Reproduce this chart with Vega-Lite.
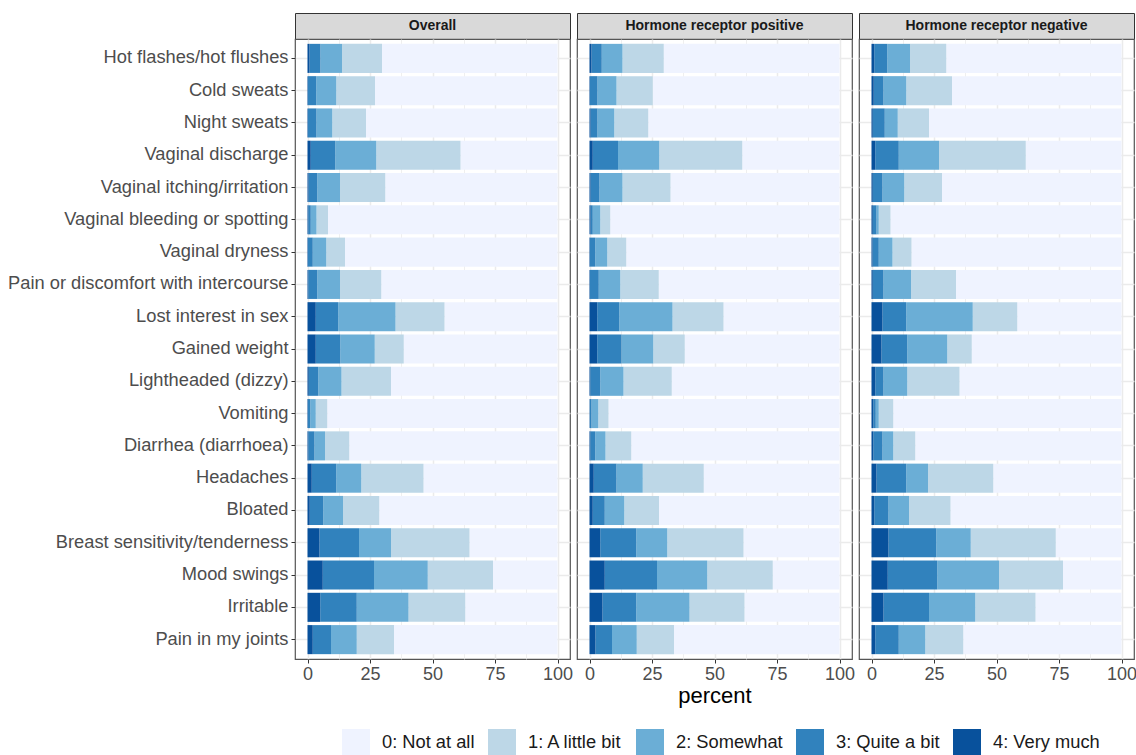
{
  "$schema": "https://vega.github.io/schema/vega-lite/v6.json",
  "padding": {"left": 6, "top": 12, "right": 0, "bottom": 0},
  "background": "white",
  "config": {
    "font": "Liberation Sans",
    "view": {"stroke": null},
    "concat": {"spacing": 0},
    "legend": {
      "orient": "none",
      "direction": "horizontal",
      "symbolType": "square",
      "symbolSize": 784,
      "symbolStrokeWidth": 0,
      "symbolOpacity": 1,
      "labelFontSize": 18.3,
      "labelColor": "#1a1a1a",
      "labelFont": "Liberation Sans",
      "labelOffset": 12,
      "columnPadding": 13,
      "labelLimit": 300
    }
  },
  "datasets": {
    "d": [
      {"g": "Overall", "s": "Hot flashes/hot flushes", "v4": 0.8, "v3": 4.4, "v2": 8.6, "v1": 16.0, "v0": 70.2},
      {"g": "Overall", "s": "Cold sweats", "v4": 0.2, "v3": 3.3, "v2": 8.0, "v1": 15.5, "v0": 73.0},
      {"g": "Overall", "s": "Night sweats", "v4": 0.2, "v3": 3.4, "v2": 6.3, "v1": 13.5, "v0": 76.6},
      {"g": "Overall", "s": "Vaginal discharge", "v4": 1.3, "v3": 9.8, "v2": 16.4, "v1": 33.7, "v0": 38.8},
      {"g": "Overall", "s": "Vaginal itching/irritation", "v4": 0.4, "v3": 3.5, "v2": 9.1, "v1": 18.1, "v0": 68.9},
      {"g": "Overall", "s": "Vaginal bleeding or spotting", "v4": 0.3, "v3": 1.0, "v2": 2.3, "v1": 4.6, "v0": 91.8},
      {"g": "Overall", "s": "Vaginal dryness", "v4": 0.2, "v3": 1.9, "v2": 5.4, "v1": 7.5, "v0": 85.0},
      {"g": "Overall", "s": "Pain or discomfort with intercourse", "v4": 0.3, "v3": 3.6, "v2": 9.1, "v1": 16.5, "v0": 70.5},
      {"g": "Overall", "s": "Lost interest in sex", "v4": 3.3, "v3": 9.0, "v2": 22.9, "v1": 19.6, "v0": 45.2},
      {"g": "Overall", "s": "Gained weight", "v4": 3.3, "v3": 9.8, "v2": 13.8, "v1": 11.6, "v0": 61.5},
      {"g": "Overall", "s": "Lightheaded (dizzy)", "v4": 0.5, "v3": 3.8, "v2": 9.3, "v1": 19.8, "v0": 66.6},
      {"g": "Overall", "s": "Vomiting", "v4": 0.2, "v3": 0.9, "v2": 2.2, "v1": 4.6, "v0": 92.1},
      {"g": "Overall", "s": "Diarrhea (diarrhoea)", "v4": 0.3, "v3": 2.5, "v2": 4.2, "v1": 9.7, "v0": 83.3},
      {"g": "Overall", "s": "Headaches", "v4": 1.7, "v3": 9.8, "v2": 10.0, "v1": 24.9, "v0": 53.6},
      {"g": "Overall", "s": "Bloated", "v4": 0.9, "v3": 5.4, "v2": 7.9, "v1": 14.5, "v0": 71.3},
      {"g": "Overall", "s": "Breast sensitivity/tenderness", "v4": 4.8, "v3": 15.8, "v2": 12.8, "v1": 31.4, "v0": 35.2},
      {"g": "Overall", "s": "Mood swings", "v4": 6.1, "v3": 20.5, "v2": 21.5, "v1": 26.1, "v0": 25.8},
      {"g": "Overall", "s": "Irritable", "v4": 5.1, "v3": 14.6, "v2": 20.7, "v1": 22.7, "v0": 36.9},
      {"g": "Overall", "s": "Pain in my joints", "v4": 2.1, "v3": 7.3, "v2": 10.3, "v1": 14.9, "v0": 65.4},

      {"g": "Hormone receptor positive", "s": "Hot flashes/hot flushes", "v4": 0.8, "v3": 4.1, "v2": 8.3, "v1": 16.5, "v0": 70.3},
      {"g": "Hormone receptor positive", "s": "Cold sweats", "v4": 0.2, "v3": 3.0, "v2": 7.6, "v1": 14.5, "v0": 74.7},
      {"g": "Hormone receptor positive", "s": "Night sweats", "v4": 0.4, "v3": 2.8, "v2": 6.7, "v1": 13.6, "v0": 76.5},
      {"g": "Hormone receptor positive", "s": "Vaginal discharge", "v4": 1.3, "v3": 10.1, "v2": 16.5, "v1": 33.2, "v0": 38.9},
      {"g": "Hormone receptor positive", "s": "Vaginal itching/irritation", "v4": 0.4, "v3": 3.6, "v2": 9.2, "v1": 19.2, "v0": 67.6},
      {"g": "Hormone receptor positive", "s": "Vaginal bleeding or spotting", "v4": 0.4, "v3": 0.9, "v2": 3.0, "v1": 4.0, "v0": 91.7},
      {"g": "Hormone receptor positive", "s": "Vaginal dryness", "v4": 0.2, "v3": 2.1, "v2": 4.8, "v1": 7.6, "v0": 85.3},
      {"g": "Hormone receptor positive", "s": "Pain or discomfort with intercourse", "v4": 0.2, "v3": 3.5, "v2": 8.6, "v1": 15.4, "v0": 72.3},
      {"g": "Hormone receptor positive", "s": "Lost interest in sex", "v4": 3.1, "v3": 8.8, "v2": 21.3, "v1": 20.4, "v0": 46.4},
      {"g": "Hormone receptor positive", "s": "Gained weight", "v4": 3.1, "v3": 9.7, "v2": 12.7, "v1": 12.6, "v0": 61.9},
      {"g": "Hormone receptor positive", "s": "Lightheaded (dizzy)", "v4": 0.3, "v3": 4.0, "v2": 9.3, "v1": 19.3, "v0": 67.1},
      {"g": "Hormone receptor positive", "s": "Vomiting", "v4": 0.1, "v3": 0.7, "v2": 2.7, "v1": 4.1, "v0": 92.4},
      {"g": "Hormone receptor positive", "s": "Diarrhea (diarrhoea)", "v4": 0.3, "v3": 2.0, "v2": 4.1, "v1": 10.3, "v0": 83.3},
      {"g": "Hormone receptor positive", "s": "Headaches", "v4": 1.7, "v3": 9.1, "v2": 10.5, "v1": 24.4, "v0": 54.3},
      {"g": "Hormone receptor positive", "s": "Bloated", "v4": 1.3, "v3": 4.8, "v2": 7.8, "v1": 13.9, "v0": 72.2},
      {"g": "Hormone receptor positive", "s": "Breast sensitivity/tenderness", "v4": 4.3, "v3": 14.4, "v2": 12.4, "v1": 30.5, "v0": 38.4},
      {"g": "Hormone receptor positive", "s": "Mood swings", "v4": 6.1, "v3": 20.9, "v2": 20.1, "v1": 26.2, "v0": 26.7},
      {"g": "Hormone receptor positive", "s": "Irritable", "v4": 5.2, "v3": 13.5, "v2": 21.3, "v1": 22.0, "v0": 38.0},
      {"g": "Hormone receptor positive", "s": "Pain in my joints", "v4": 2.4, "v3": 6.6, "v2": 9.9, "v1": 14.9, "v0": 66.2},

      {"g": "Hormone receptor negative", "s": "Hot flashes/hot flushes", "v4": 1.1, "v3": 5.2, "v2": 9.1, "v1": 14.5, "v0": 70.1},
      {"g": "Hormone receptor negative", "s": "Cold sweats", "v4": 0.9, "v3": 3.9, "v2": 9.1, "v1": 18.3, "v0": 67.8},
      {"g": "Hormone receptor negative", "s": "Night sweats", "v4": 0.5, "v3": 4.8, "v2": 5.2, "v1": 12.5, "v0": 77.0},
      {"g": "Hormone receptor negative", "s": "Vaginal discharge", "v4": 1.5, "v3": 9.4, "v2": 16.1, "v1": 34.7, "v0": 38.3},
      {"g": "Hormone receptor negative", "s": "Vaginal itching/irritation", "v4": 0.5, "v3": 3.9, "v2": 8.7, "v1": 15.1, "v0": 71.8},
      {"g": "Hormone receptor negative", "s": "Vaginal bleeding or spotting", "v4": 0.5, "v3": 1.5, "v2": 0.9, "v1": 4.7, "v0": 92.4},
      {"g": "Hormone receptor negative", "s": "Vaginal dryness", "v4": 0.4, "v3": 2.5, "v2": 5.5, "v1": 7.6, "v0": 84.0},
      {"g": "Hormone receptor negative", "s": "Pain or discomfort with intercourse", "v4": 0.5, "v3": 4.3, "v2": 11.0, "v1": 18.0, "v0": 66.2},
      {"g": "Hormone receptor negative", "s": "Lost interest in sex", "v4": 4.4, "v3": 9.5, "v2": 26.6, "v1": 17.8, "v0": 41.7},
      {"g": "Hormone receptor negative", "s": "Gained weight", "v4": 4.0, "v3": 10.3, "v2": 16.0, "v1": 9.8, "v0": 59.9},
      {"g": "Hormone receptor negative", "s": "Lightheaded (dizzy)", "v4": 1.5, "v3": 3.3, "v2": 9.5, "v1": 20.9, "v0": 64.8},
      {"g": "Hormone receptor negative", "s": "Vomiting", "v4": 0.7, "v3": 1.0, "v2": 1.2, "v1": 5.8, "v0": 91.3},
      {"g": "Hormone receptor negative", "s": "Diarrhea (diarrhoea)", "v4": 0.7, "v3": 3.7, "v2": 4.3, "v1": 8.8, "v0": 82.5},
      {"g": "Hormone receptor negative", "s": "Headaches", "v4": 2.0, "v3": 11.9, "v2": 8.7, "v1": 26.1, "v0": 51.3},
      {"g": "Hormone receptor negative", "s": "Bloated", "v4": 1.1, "v3": 5.7, "v2": 8.2, "v1": 16.6, "v0": 68.4},
      {"g": "Hormone receptor negative", "s": "Breast sensitivity/tenderness", "v4": 6.8, "v3": 19.1, "v2": 13.8, "v1": 34.0, "v0": 26.3},
      {"g": "Hormone receptor negative", "s": "Mood swings", "v4": 6.5, "v3": 19.8, "v2": 24.7, "v1": 25.6, "v0": 23.4},
      {"g": "Hormone receptor negative", "s": "Irritable", "v4": 4.8, "v3": 18.2, "v2": 18.5, "v1": 24.1, "v0": 34.4},
      {"g": "Hormone receptor negative", "s": "Pain in my joints", "v4": 1.5, "v3": 9.4, "v2": 10.6, "v1": 15.2, "v0": 63.3}
    ]
  },
  "spacing": 2,
  "hconcat": [
    {
      "bounds": "flush",
      "spacing": 0,
      "vconcat": [
        {
          "width": 275, "height": 26,
          "view": {"fill": "#d9d9d9", "stroke": "#333333", "strokeWidth": 1},
          "data": {"values": [{"g": "Overall"}]},
          "mark": {"type": "text", "fontSize": 14, "fontWeight": "bold", "color": "#1a1a1a", "baseline": "middle", "align": "center"},
          "encoding": {"text": {"field": "g"}}
        },
        {
          "width": 275, "height": 620,
          "view": {"fill": "white", "stroke": "#555555", "strokeWidth": 1.2},
          "data": {"name": "d"},
          "transform": [
            {"filter": "datum.g === 'Overall'"},
            {"fold": ["v0", "v1", "v2", "v3", "v4"], "as": ["level", "percent"]}
          ],
          "mark": {"type": "bar"},
          "encoding": {
            "y": {
              "field": "s", "type": "nominal", "sort": null,
              "scale": {"paddingInner": 0.1, "paddingOuter": 0.15},
              "axis": {"title": null, "labelFontSize": 18.3, "labelColor": "#4d4d4d", "labelPadding": 3, "labelLimit": 400,
                       "tickSize": 4, "tickColor": "#333333", "tickWidth": 1, "domain": false,
                       "grid": true, "gridColor": "#ebebeb", "gridWidth": 1.5, "bandPosition": 0.5}
            },
            "x": {
              "field": "percent", "type": "quantitative", "stack": "zero",
              "scale": {"domain": [-5, 105], "nice": false, "zero": false},
              "axis": {"title": null, "values": [0, 12.5, 25, 37.5, 50, 62.5, 75, 87.5, 100], "format": "d",
                       "labelExpr": "datum.value % 25 === 0 ? datum.label : ''", "labelOverlap": false, "labelFlush": false,
                       "labelFontSize": 18, "labelColor": "#4d4d4d", "labelPadding": 2,
                       "tickSize": 4, "tickColor": "#333333", "tickWidth": 1,
                       "tickOpacity": {"condition": {"test": "datum.value % 25 !== 0", "value": 0}, "value": 1},
                       "domain": false, "grid": true, "gridColor": "#ebebeb",
                       "gridWidth": {"condition": {"test": "datum.value % 25 !== 0", "value": 0.8}, "value": 1.5}}
            },
            "color": {
              "field": "level", "type": "nominal",
              "scale": {"domain": ["v0", "v1", "v2", "v3", "v4"], "range": ["#eff3ff", "#bdd7e7", "#6baed6", "#3182bd", "#08519c"]},
              "legend": {"title": null, "orient": "none", "direction": "horizontal", "legendX": 47, "legendY": 716,
                         "labelExpr": "datum.value === 'v0' ? '0: Not at all' : datum.value === 'v1' ? '1: A little bit' : datum.value === 'v2' ? '2: Somewhat' : datum.value === 'v3' ? '3: Quite a bit' : '4: Very much'"}
            },
            "order": {"field": "level", "type": "ordinal", "sort": "descending"}
          }
        }
      ]
    },
    {
      "bounds": "flush",
      "spacing": 0,
      "vconcat": [
        {
          "width": 275, "height": 26,
          "view": {"fill": "#d9d9d9", "stroke": "#333333", "strokeWidth": 1},
          "data": {"values": [{"g": "Hormone receptor positive"}]},
          "mark": {"type": "text", "fontSize": 14, "fontWeight": "bold", "color": "#1a1a1a", "baseline": "middle", "align": "center"},
          "encoding": {"text": {"field": "g"}}
        },
        {
          "width": 275, "height": 620,
          "view": {"fill": "white", "stroke": "#555555", "strokeWidth": 1.2},
          "data": {"name": "d"},
          "transform": [
            {"filter": "datum.g === 'Hormone receptor positive'"},
            {"fold": ["v0", "v1", "v2", "v3", "v4"], "as": ["level", "percent"]}
          ],
          "mark": {"type": "bar"},
          "encoding": {
            "y": {
              "field": "s", "type": "nominal", "sort": null,
              "scale": {"paddingInner": 0.1, "paddingOuter": 0.15},
              "axis": {"title": null, "labels": false, "ticks": false, "domain": false,
                       "grid": true, "gridColor": "#ebebeb", "gridWidth": 1.5, "bandPosition": 0.5}
            },
            "x": {
              "field": "percent", "type": "quantitative", "stack": "zero",
              "scale": {"domain": [-5, 105], "nice": false, "zero": false},
              "axis": {"title": "percent", "titleFontSize": 22, "titleFontWeight": "normal", "titleColor": "#000000", "titlePadding": 2,
                       "values": [0, 12.5, 25, 37.5, 50, 62.5, 75, 87.5, 100], "format": "d",
                       "labelExpr": "datum.value % 25 === 0 ? datum.label : ''", "labelOverlap": false, "labelFlush": false,
                       "labelFontSize": 18, "labelColor": "#4d4d4d", "labelPadding": 2,
                       "tickSize": 4, "tickColor": "#333333", "tickWidth": 1,
                       "tickOpacity": {"condition": {"test": "datum.value % 25 !== 0", "value": 0}, "value": 1},
                       "domain": false, "grid": true, "gridColor": "#ebebeb",
                       "gridWidth": {"condition": {"test": "datum.value % 25 !== 0", "value": 0.8}, "value": 1.5}}
            },
            "color": {
              "field": "level", "type": "nominal",
              "scale": {"domain": ["v0", "v1", "v2", "v3", "v4"], "range": ["#eff3ff", "#bdd7e7", "#6baed6", "#3182bd", "#08519c"]},
              "legend": {"title": null, "orient": "none", "direction": "horizontal", "legendX": 47, "legendY": 716,
                         "labelExpr": "datum.value === 'v0' ? '0: Not at all' : datum.value === 'v1' ? '1: A little bit' : datum.value === 'v2' ? '2: Somewhat' : datum.value === 'v3' ? '3: Quite a bit' : '4: Very much'"}
            },
            "order": {"field": "level", "type": "ordinal", "sort": "descending"}
          }
        }
      ]
    },
    {
      "bounds": "flush",
      "spacing": 0,
      "vconcat": [
        {
          "width": 275, "height": 26,
          "view": {"fill": "#d9d9d9", "stroke": "#333333", "strokeWidth": 1},
          "data": {"values": [{"g": "Hormone receptor negative"}]},
          "mark": {"type": "text", "fontSize": 14, "fontWeight": "bold", "color": "#1a1a1a", "baseline": "middle", "align": "center"},
          "encoding": {"text": {"field": "g"}}
        },
        {
          "width": 275, "height": 620,
          "view": {"fill": "white", "stroke": "#555555", "strokeWidth": 1.2},
          "data": {"name": "d"},
          "transform": [
            {"filter": "datum.g === 'Hormone receptor negative'"},
            {"fold": ["v0", "v1", "v2", "v3", "v4"], "as": ["level", "percent"]}
          ],
          "mark": {"type": "bar"},
          "encoding": {
            "y": {
              "field": "s", "type": "nominal", "sort": null,
              "scale": {"paddingInner": 0.1, "paddingOuter": 0.15},
              "axis": {"title": null, "labels": false, "ticks": false, "domain": false,
                       "grid": true, "gridColor": "#ebebeb", "gridWidth": 1.5, "bandPosition": 0.5}
            },
            "x": {
              "field": "percent", "type": "quantitative", "stack": "zero",
              "scale": {"domain": [-5, 105], "nice": false, "zero": false},
              "axis": {"title": null, "values": [0, 12.5, 25, 37.5, 50, 62.5, 75, 87.5, 100], "format": "d",
                       "labelExpr": "datum.value % 25 === 0 ? datum.label : ''", "labelOverlap": false, "labelFlush": false,
                       "labelFontSize": 18, "labelColor": "#4d4d4d", "labelPadding": 2,
                       "tickSize": 4, "tickColor": "#333333", "tickWidth": 1,
                       "tickOpacity": {"condition": {"test": "datum.value % 25 !== 0", "value": 0}, "value": 1},
                       "domain": false, "grid": true, "gridColor": "#ebebeb",
                       "gridWidth": {"condition": {"test": "datum.value % 25 !== 0", "value": 0.8}, "value": 1.5}}
            },
            "color": {
              "field": "level", "type": "nominal",
              "scale": {"domain": ["v0", "v1", "v2", "v3", "v4"], "range": ["#eff3ff", "#bdd7e7", "#6baed6", "#3182bd", "#08519c"]},
              "legend": {"title": null, "orient": "none", "direction": "horizontal", "legendX": 47, "legendY": 716,
                         "labelExpr": "datum.value === 'v0' ? '0: Not at all' : datum.value === 'v1' ? '1: A little bit' : datum.value === 'v2' ? '2: Somewhat' : datum.value === 'v3' ? '3: Quite a bit' : '4: Very much'"}
            },
            "order": {"field": "level", "type": "ordinal", "sort": "descending"}
          }
        }
      ]
    }
  ]
}
